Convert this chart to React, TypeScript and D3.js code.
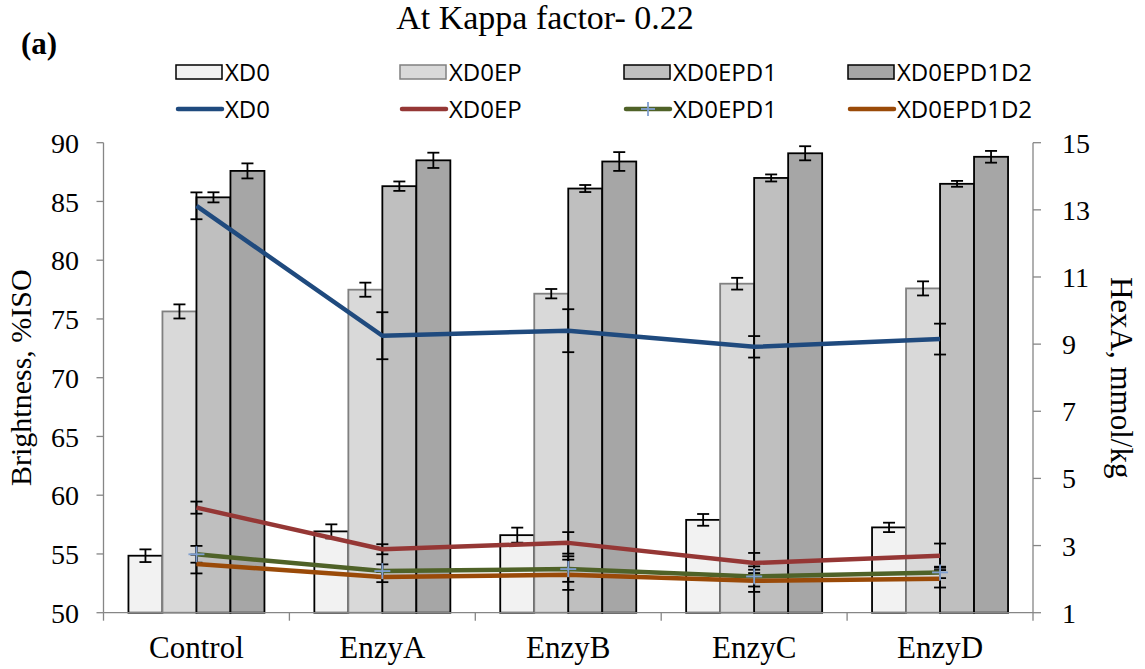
import React from "react";
import * as d3 from "d3";

const categories = ["Control", "EnzyA", "EnzyB", "EnzyC", "EnzyD"];
const seriesNames = ["XD0", "XD0EP", "XD0EPD1", "XD0EPD1D2"];

// Brightness (%ISO) – bars, left axis
const brightXD0 = [54.85, 56.92, 56.6, 57.9, 57.26];
const brightXD0EP = [75.64, 77.49, 77.15, 78.0, 77.6];
const brightXD0EPD1 = [85.35, 86.3, 86.1, 87.0, 86.5];
const brightXD0EPD1D2 = [87.6, 88.5, 88.4, 89.1, 88.8];
const errBrightXD0 = [0.54, 0.6, 0.64, 0.5, 0.4];
const errBrightXD0EP = [0.6, 0.6, 0.4, 0.5, 0.6];
const errBrightXD0EPD1 = [0.43, 0.4, 0.3, 0.3, 0.25];
const errBrightXD0EPD1D2 = [0.64, 0.65, 0.8, 0.6, 0.5];

// HexA (mmol/kg) – lines, right axis
const hexXD0 = [13.12, 9.25, 9.4, 8.92, 9.15];
const hexXD0EP = [4.13, 2.89, 3.08, 2.48, 2.7];
const hexXD0EPD1 = [2.74, 2.24, 2.3, 2.08, 2.2];
const hexXD0EPD1D2 = [2.45, 2.06, 2.13, 1.95, 2.01];
const errHexXD0 = [0.4, 0.7, 0.64, 0.32, 0.46];
const errHexXD0EP = [0.18, 0.15, 0.32, 0.3, 0.36];
const errHexXD0EPD1 = [0.25, 0.2, 0.38, 0.3, 0.17];
const errHexXD0EPD1D2 = [0.28, 0.15, 0.45, 0.33, 0.26];

const leftTicks = [50, 55, 60, 65, 70, 75, 80, 85, 90];
const rightTicks = [1, 3, 5, 7, 9, 11, 13, 15];

const barValues = [brightXD0, brightXD0EP, brightXD0EPD1, brightXD0EPD1D2];
const barErrs = [errBrightXD0, errBrightXD0EP, errBrightXD0EPD1, errBrightXD0EPD1D2];
const lineValues = [hexXD0, hexXD0EP, hexXD0EPD1, hexXD0EPD1D2];
const lineErrs = [errHexXD0, errHexXD0EP, errHexXD0EPD1, errHexXD0EPD1D2];

const barFills = ["#F2F2F2", "#D9D9D9", "#BFBFBF", "#A6A6A6"];
const barStrokes = ["#000000", "#808080", "#000000", "#000000"];
const lineColors = ["#1F4A7E", "#953735", "#4F6228", "#9A4A08"];

const W = 1145, H = 669;
const L = 103.5, R = 1033, T = 142.7, B = 612.7;
const serif = "'Liberation Serif', 'Times New Roman', serif";
const sans = "'Open Sans', 'Noto Sans', sans-serif";
const axisColor = "#868686";

export default function App() {
  const x0 = d3.scaleBand<string>().domain(categories).range([L, R]).paddingInner(0).paddingOuter(0);
  const band = x0.bandwidth();
  const barW = 34;
  const x1 = d3.scaleBand<string>().domain(seriesNames).range([0, barW * 4]);
  const yL = d3.scaleLinear().domain([50, 90]).range([B, T]);
  const yR = d3.scaleLinear().domain([1, 15]).range([B, T]);
  const cx = (c: string) => (x0(c) as number) + band / 2;
  const line = d3.line<number>().x((_, i) => cx(categories[i])).y((v) => yR(v));
  const cap = 6;

  const boundaries = d3.range(categories.length + 1).map((i) => L + i * band);
  const legendCols = [176, 400, 624, 848];

  return (
    <svg width={W} height={H} style={{ position: "absolute", left: 0, top: 0, background: "#fff" }}>
      {/* title */}
      <text x={545} y={29} textAnchor="middle" fontFamily={serif} fontSize={34}>At Kappa factor- 0.22</text>
      <text x={21} y={54} fontFamily={serif} fontSize={31} fontWeight="bold">(a)</text>

      {/* legend */}
      {seriesNames.map((s, i) => (
        <g key={"lb" + s}>
          <rect x={legendCols[i]} y={65} width={46} height={14} fill={barFills[i]} stroke={barStrokes[i]} strokeWidth={1.5} />
          <text x={legendCols[i] + 49} y={81} fontFamily={sans} fontSize={24}>{s}</text>
        </g>
      ))}
      {seriesNames.map((s, i) => (
        <g key={"ll" + s}>
          <line x1={legendCols[i] + 2} x2={legendCols[i] + 46} y1={109} y2={109} stroke={lineColors[i]} strokeWidth={4.5} strokeLinecap="round" />
          {i === 2 && (
            <g stroke="#7F9FD0" strokeWidth={1.8}>
              <line x1={legendCols[i] + 17} x2={legendCols[i] + 31} y1={109} y2={109} />
              <line x1={legendCols[i] + 24} x2={legendCols[i] + 24} y1={102} y2={116} />
            </g>
          )}
          <text x={legendCols[i] + 49} y={118} fontFamily={sans} fontSize={24}>{s}</text>
        </g>
      ))}

      {/* bars */}
      {categories.map((c, ci) => (
        <g key={"bars" + c}>
          {seriesNames.map((s, si) => {
            const bx = cx(c) - barW * 2 + (x1(s) as number);
            const v = barValues[si][ci];
            return (
              <rect key={s} x={bx} y={yL(v)} width={barW} height={B - yL(v)} fill={barFills[si]} stroke={barStrokes[si]} strokeWidth={1.8} />
            );
          })}
        </g>
      ))}
      {/* bar error bars */}
      {categories.map((c, ci) => (
        <g key={"berr" + c} stroke="#000" strokeWidth={1.8}>
          {seriesNames.map((s, si) => {
            const ex = cx(c) - barW * 2 + (x1(s) as number) + barW / 2;
            const v = barValues[si][ci];
            const e = barErrs[si][ci];
            return (
              <g key={s}>
                <line x1={ex} x2={ex} y1={yL(v + e)} y2={yL(v - e)} />
                <line x1={ex - cap} x2={ex + cap} y1={yL(v + e)} y2={yL(v + e)} />
                <line x1={ex - cap} x2={ex + cap} y1={yL(v - e)} y2={yL(v - e)} />
              </g>
            );
          })}
        </g>
      ))}

      {/* axes */}
      <g stroke={axisColor} strokeWidth={1.3}>
        <line x1={L} x2={L} y1={T} y2={B} />
        <line x1={R} x2={R} y1={T} y2={B} />
        <line x1={L} x2={R} y1={B} y2={B} />
        {leftTicks.map((t) => (
          <line key={"lt" + t} x1={L - 7} x2={L} y1={yL(t)} y2={yL(t)} />
        ))}
        {rightTicks.map((t) => (
          <line key={"rt" + t} x1={R} x2={R + 8} y1={yR(t)} y2={yR(t)} />
        ))}
        {boundaries.map((bx, i) => (
          <line key={"xt" + i} x1={bx} x2={bx} y1={B} y2={B + 8} />
        ))}
      </g>
      {leftTicks.map((t) => (
        <text key={"ltl" + t} x={79} y={yL(t)} dy="0.36em" textAnchor="end" fontFamily={serif} fontSize={28}>{t}</text>
      ))}
      {rightTicks.map((t) => (
        <text key={"rtl" + t} x={1062} y={yR(t)} dy="0.36em" textAnchor="start" fontFamily={serif} fontSize={28}>{t}</text>
      ))}
      {categories.map((c) => (
        <text key={"cl" + c} x={cx(c)} y={658} textAnchor="middle" fontFamily={serif} fontSize={31}>{c}</text>
      ))}
      <text transform={`translate(31,${(T + B) / 2}) rotate(-90)`} textAnchor="middle" fontFamily={serif} fontSize={30}>Brightness, %ISO</text>
      <text transform={`translate(1111,${(T + B) / 2}) rotate(90)`} textAnchor="middle" fontFamily={serif} fontSize={31}>HexA, mmol/kg</text>

      {/* line error bars */}
      {lineValues.map((vals, li) => (
        <g key={"lerr" + li} stroke="#000" strokeWidth={1.8}>
          {vals.map((v, ci) => {
            const ex = cx(categories[ci]);
            const e = lineErrs[li][ci];
            return (
              <g key={ci}>
                <line x1={ex} x2={ex} y1={yR(v + e)} y2={yR(v - e)} />
                <line x1={ex - cap} x2={ex + cap} y1={yR(v + e)} y2={yR(v + e)} />
                <line x1={ex - cap} x2={ex + cap} y1={yR(v - e)} y2={yR(v - e)} />
              </g>
            );
          })}
        </g>
      ))}
      {/* lines */}
      {lineValues.map((vals, li) => (
        <path key={"line" + li} d={line(vals) as string} fill="none" stroke={lineColors[li]} strokeWidth={4.5} strokeLinejoin="round" />
      ))}
      {/* markers on XD0EPD1 line */}
      {hexXD0EPD1.map((v, ci) => {
        const px = cx(categories[ci]);
        const py = yR(v);
        return (
          <g key={"mk" + ci} stroke="#7F9FD0" strokeWidth={1.8}>
            <line x1={px - 8} x2={px + 8} y1={py} y2={py} />
            <line x1={px} x2={px} y1={py - 8} y2={py + 8} />
          </g>
        );
      })}
    </svg>
  );
}
